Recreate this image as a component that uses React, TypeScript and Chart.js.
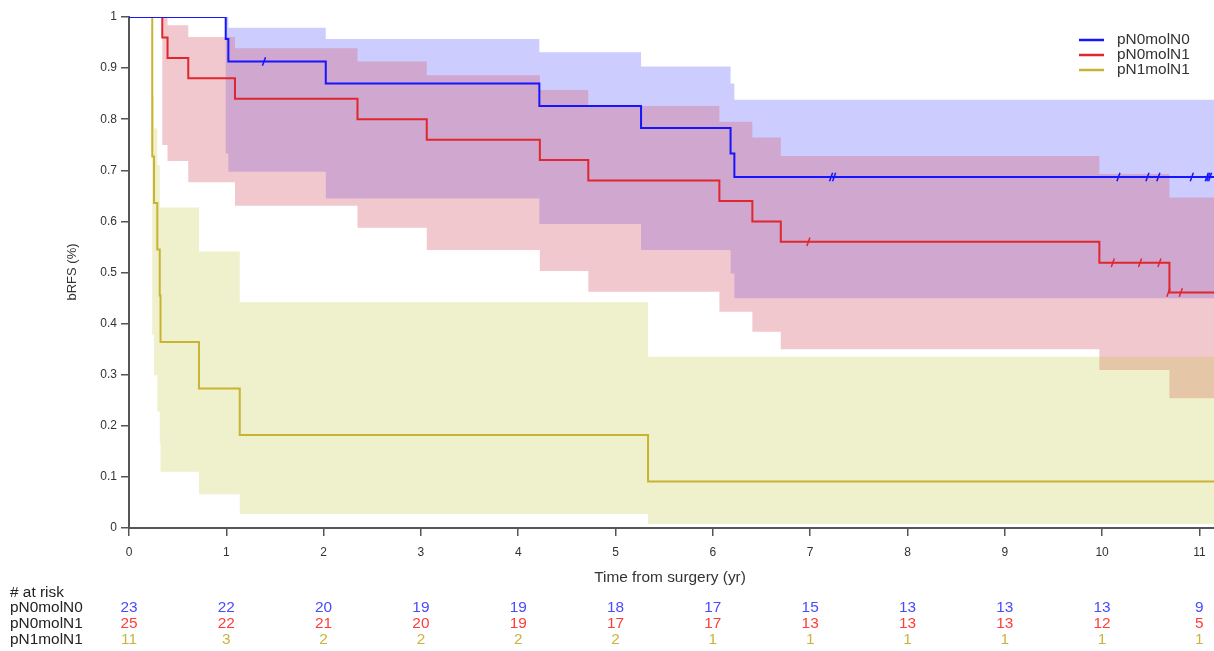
import React, { useEffect, useRef } from "react";
import { Chart, registerables } from "chart.js";

Chart.register(...registerables);

// ---------- data ----------
const groupNames = ["pN0molN0", "pN0molN1", "pN1molN1"];
const xTickValues = [0, 1, 2, 3, 4, 5, 6, 7, 8, 9, 10, 11];
const yTickValues = [0, 0.1, 0.2, 0.3, 0.4, 0.5, 0.6, 0.7, 0.8, 0.9, 1];
const yTickLabels = ["0", "0.1", "0.2", "0.3", "0.4", "0.5", "0.6", "0.7", "0.8", "0.9", "1"];
const xMax = 11.15;

// pN0molN0 (blue)
const blueTimes = [0, 0.994, 1.021, 2.022, 4.217, 5.262, 6.182, 6.221, 11.15];
const blueSurv = [1, 0.957, 0.913, 0.87, 0.826, 0.783, 0.733, 0.687, 0.687];
const blueUpper = [1, 1, 0.979, 0.957, 0.931, 0.903, 0.87, 0.838, 0.838];
const blueLower = [1, 0.733, 0.697, 0.645, 0.595, 0.544, 0.498, 0.4495, 0.4495];
const blueCensorTimes = [1.387, 7.215, 7.246, 10.168, 10.466, 10.578, 10.922, 11.076, 11.092, 11.11];
const blueCensorSurv = [0.913, 0.687, 0.687, 0.687, 0.687, 0.687, 0.687, 0.687, 0.687, 0.687];

// pN0molN1 (red)
const redTimes = [0, 0.342, 0.396, 0.609, 1.089, 2.348, 3.06, 4.222, 4.72, 6.067, 6.406, 6.698, 9.972, 10.692, 11.15];
const redSurv = [1, 0.96, 0.92, 0.88, 0.84, 0.8, 0.76, 0.72, 0.68, 0.64, 0.6, 0.56, 0.519, 0.461, 0.461];
const redUpper = [1, 1, 0.984, 0.961, 0.939, 0.913, 0.886, 0.857, 0.826, 0.795, 0.764, 0.728, 0.693, 0.647, 0.647];
const redLower = [1, 0.7495, 0.718, 0.6765, 0.6307, 0.5877, 0.544, 0.503, 0.4625, 0.423, 0.384, 0.3497, 0.309, 0.254, 0.254];
const redCensorTimes = [6.982, 10.11, 10.39, 10.589, 10.681, 10.809];
const redCensorSurv = [0.56, 0.519, 0.519, 0.519, 0.461, 0.461];

// pN1molN1 (olive)
const oliveTimes = [0, 0.239, 0.257, 0.291, 0.316, 0.324, 0.719, 1.138, 5.334, 11.15];
const oliveSurv = [1, 0.727, 0.636, 0.545, 0.455, 0.364, 0.273, 0.182, 0.091, 0.091];
const oliveUpper = [1, 0.847, 0.782, 0.71, 0.627, 0.627, 0.541, 0.4417, 0.335, 0.335];
const oliveLower = [1, 0.378, 0.299, 0.228, 0.166, 0.11, 0.066, 0.0274, 0.008, 0.008];

// numbers at risk
const atRiskTimes = [0, 1, 2, 3, 4, 5, 6, 7, 8, 9, 10, 11];
const blueAtRisk = [23, 22, 20, 19, 19, 18, 17, 15, 13, 13, 13, 9];
const redAtRisk = [25, 22, 21, 20, 19, 17, 17, 13, 13, 13, 12, 5];
const oliveAtRisk = [11, 3, 2, 2, 2, 2, 1, 1, 1, 1, 1, 1];

// ---------- styles ----------
const FONT = '"Liberation Sans", Arial, sans-serif';
const lineColors = ["#1515FF", "#E0262E", "#C8B432"];
const bandColors = ["rgba(0,0,255,0.2)", "rgba(215,98,115,0.35)", "rgba(191,195,51,0.25)"];
const riskColors = ["#4A4AFF", "#FF3C3C", "#C9B53C"];
const SX = 1.1;

const pts = (ts: number[], vs: number[]) => ts.map((t, i) => ({ x: t, y: vs[i] }));

function drawText(ctx: CanvasRenderingContext2D, text: string, x: number, y: number, align: CanvasTextAlign, font: string, color: string, sx = SX) {
  ctx.save();
  ctx.translate(x, y);
  ctx.scale(sx, 1);
  ctx.font = font;
  ctx.fillStyle = color;
  ctx.textAlign = align;
  ctx.textBaseline = "middle";
  ctx.fillText(text, 0, 0);
  ctx.restore();
}

const textPlugin = {
  id: "kmText",
  afterDraw(chart: any) {
    const ctx: CanvasRenderingContext2D = chart.ctx;
    const xs = chart.scales.x;
    // y title
    ctx.save();
    ctx.translate(72, 272);
    ctx.rotate(-Math.PI / 2);
    drawText(ctx, "bRFS (%)", 0, 0, "center", `13px ${FONT}`, "#333", 1);
    ctx.restore();
    // x title
    drawText(ctx, "Time from surgery (yr)", 670, 578, "center", `14px ${FONT}`, "#333");
    // legend
    const legY = [40, 55, 70];
    groupNames.forEach((n, i) => {
      ctx.save();
      ctx.strokeStyle = lineColors[i];
      ctx.lineWidth = 2.5;
      ctx.beginPath();
      ctx.moveTo(1079, legY[i]);
      ctx.lineTo(1104, legY[i]);
      ctx.stroke();
      ctx.restore();
      drawText(ctx, n, 1117, legY[i], "left", `14px ${FONT}`, "#333");
    });
    // at-risk table
    drawText(ctx, "# at risk", 10, 593, "left", `14px ${FONT}`, "#222");
    const rows = [blueAtRisk, redAtRisk, oliveAtRisk];
    const rowY = [608.5, 624.5, 640.5];
    rows.forEach((r, i) => {
      drawText(ctx, groupNames[i], 10, rowY[i], "left", `14px ${FONT}`, "#222");
      r.forEach((v, j) => {
        drawText(ctx, String(v), xs.getPixelForValue(atRiskTimes[j]), rowY[i], "center", `14px ${FONT}`, riskColors[i]);
      });
    });
  },
};

export default function App() {
  const ref = useRef<HTMLCanvasElement>(null);
  useEffect(() => {
    document.body.style.margin = "0";
    const canvas = ref.current;
    if (!canvas) return;

    const bandDs = (ts: number[], vs: number[], order: number, fill: any, color: string) => ({
      data: pts(ts, vs),
      stepped: "before" as const,
      borderWidth: 0,
      borderColor: "rgba(0,0,0,0)",
      backgroundColor: color,
      pointRadius: 0,
      fill,
      order,
    });
    const lineDs = (ts: number[], vs: number[], color: string) => ({
      data: pts(ts, vs),
      stepped: "before" as const,
      borderWidth: 2,
      borderColor: color,
      pointRadius: 0,
      fill: false,
      order: 1,
    });
    const censorDs = (ts: number[], vs: number[], color: string) => ({
      data: pts(ts, vs),
      showLine: false,
      pointStyle: "line",
      rotation: -70,
      pointRadius: 4.5,
      pointBorderWidth: 1.5,
      pointBorderColor: color,
      borderColor: color,
      fill: false,
      order: 0,
    });

    const datasets: any[] = [
      bandDs(blueTimes, blueLower, 30, false, bandColors[0]),
      bandDs(blueTimes, blueUpper, 30, 0, bandColors[0]),
      bandDs(redTimes, redLower, 20, false, bandColors[1]),
      bandDs(redTimes, redUpper, 20, 2, bandColors[1]),
      bandDs(oliveTimes, oliveLower, 10, false, bandColors[2]),
      bandDs(oliveTimes, oliveUpper, 10, 4, bandColors[2]),
      lineDs(blueTimes, blueSurv, lineColors[0]),
      lineDs(redTimes, redSurv, lineColors[1]),
      lineDs(oliveTimes, oliveSurv, lineColors[2]),
      censorDs(blueCensorTimes, blueCensorSurv, lineColors[0]),
      censorDs(redCensorTimes, redCensorSurv, lineColors[1]),
    ];

    const chart = new Chart(canvas, {
      type: "line",
      data: { datasets },
      options: {
        animation: false,
        responsive: false,
        devicePixelRatio: 1,
        events: [],
        layout: { autoPadding: false, padding: { top: 17, left: 0, right: 0, bottom: 0 } },
        plugins: { legend: { display: false }, tooltip: { enabled: false } },
        scales: {
          x: {
            type: "linear",
            min: 0,
            max: xMax,
            afterBuildTicks: (s: any) => {
              s.ticks = xTickValues.map((v) => ({ value: v }));
            },
            afterFit: (s: any) => {
              s.height = 123;
              s.paddingLeft = 0;
              s.paddingRight = 0;
            },
            grid: { drawOnChartArea: false, drawTicks: true, tickLength: 8, color: "#555", lineWidth: 1.5 },
            border: { display: true, color: "#555", width: 2 },
            ticks: { color: "#333", font: { family: FONT, size: 12 }, padding: 9, maxRotation: 0, autoSkip: false },
          },
          y: {
            type: "linear",
            min: 0,
            max: 1,
            afterBuildTicks: (s: any) => {
              s.ticks = yTickValues.map((v) => ({ value: v }));
            },
            afterFit: (s: any) => {
              s.width = 129;
            },
            grid: { drawOnChartArea: false, drawTicks: true, tickLength: 8, color: "#555", lineWidth: 1.5 },
            border: { display: true, color: "#555", width: 2 },
            ticks: {
              color: "#333",
              font: { family: FONT, size: 12 },
              padding: 4,
              autoSkip: false,
              callback: (_v: any, i: number) => yTickLabels[i],
            },
          },
        },
      },
      plugins: [textPlugin],
    } as any);
    return () => chart.destroy();
  }, []);

  return (
    <div style={{ position: "fixed", left: 0, top: 0, width: 1214, height: 651, background: "#fff" }}>
      <canvas ref={ref} width={1214} height={651} style={{ display: "block", width: 1214, height: 651 }} />
    </div>
  );
}
